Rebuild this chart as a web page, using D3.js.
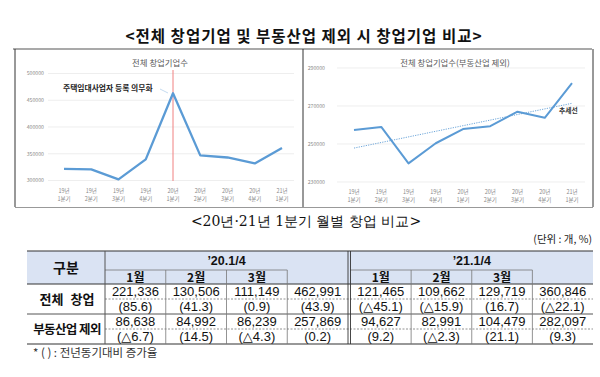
<!DOCTYPE html>
<html>
<head>
<meta charset="utf-8">
<script src="https://cdn.jsdelivr.net/npm/d3@7"></script>
<style>
  body { margin: 0; background: #fff; }
  svg { display: block; font-family: "Noto Sans CJK KR", "Noto Sans", sans-serif; }
</style>
</head>
<body>
<svg id="svg1" width="600" height="377"></svg>
<script>
// quarterly data
var qYear = ["19년","19년","19년","19년","20년","20년","20년","20년","21년"]
var qName = ["1분기","2분기","3분기","4분기","1분기","2분기","3분기","4분기","1분기"]
var totalQ = [321745, 320800, 302000, 339600, 462991, 347000, 343000, 332000, 360846]
var exclQ  = [257354, 259000, 239800, 250400, 257869, 259400, 267000, 263800, 282097]
var totalTicks = [300000, 350000, 400000, 450000, 500000]
var exclTicks  = [230000, 250000, 270000, 290000]

// monthly table
var months = ["1월","2월","3월",""]
var periods = ["’20.1/4","’21.1/4"]
var rowLabels = ["전체 창업","부동산업 제외"]
var total2020    = ["221,336","130,506","111,149","462,991"]
var total2020Pct = ["(85.6)","(41.3)","(0.9)","(43.9)"]
var total2021    = ["121,465","109,662","129,719","360,846"]
var total2021Pct = ["(△45.1)","(△15.9)","(16.7)","(△22.1)"]
var excl2020     = ["86,638","84,992","86,239","257,869"]
var excl2020Pct  = ["(△6.7)","(14.5)","(△4.3)","(0.2)"]
var excl2021     = ["94,627","82,991","104,479","282,097"]
var excl2021Pct  = ["(9.2)","(△2.3)","(21.1)","(9.3)"]

var svg = d3.select("#svg1")
var blue = "#5b9bd5"

// ---- titles
svg.append("text").attr("x",304).attr("y",42).attr("text-anchor","middle")
   .style("font-size","15.5px").style("font-weight","bold").style("letter-spacing","1px").attr("fill","#111")
   .text("<전체 창업기업 및 부동산업 제외 시 창업기업 비교>")
svg.append("line").attr("x1",13).attr("x2",592).attr("y1",49).attr("y2",49)
   .attr("stroke","#8c8c8c").attr("stroke-width",1.5)

// chart frames
svg.append("line").attr("x1",15).attr("x2",15).attr("y1",49).attr("y2",207).attr("stroke","#333")
svg.append("line").attr("x1",303).attr("x2",303).attr("y1",49).attr("y2",207).attr("stroke","#333")
svg.append("line").attr("x1",593).attr("x2",593).attr("y1",49).attr("y2",207).attr("stroke","#333")
svg.append("line").attr("x1",15).attr("x2",593).attr("y1",207.5).attr("y2",207.5).attr("stroke","#999")

function lineChart(opt){
    var g = svg.append("g")
    var x = d3.scalePoint().domain(d3.range(opt.values.length)).range(opt.xr)
    var y = d3.scaleLinear().domain(d3.extent(opt.ticks)).range(opt.yr)

    g.selectAll(".grid").data(opt.ticks).join("line")
       .attr("x1",opt.gx[0]).attr("x2",opt.gx[1])
       .attr("y1",d=>y(d)).attr("y2",d=>y(d))
       .attr("stroke","#e6e6e6").attr("stroke-width",0.7)
    g.selectAll(".yl").data(opt.ticks).join("text")
       .attr("x",opt.lx).attr("y",d=>y(d)+1.8).attr("text-anchor","end")
       .style("font-size","5.2px").attr("fill","#8a8a8a")
       .text(d=>d)
    g.selectAll(".xl1").data(qYear).join("text")
       .attr("x",(d,i)=>x(i)).attr("y",opt.yr[0]+12).attr("text-anchor","middle")
       .style("font-size","5.5px").attr("fill","#8a8a8a").text(d=>d)
    g.selectAll(".xl2").data(qName).join("text")
       .attr("x",(d,i)=>x(i)).attr("y",opt.yr[0]+20).attr("text-anchor","middle")
       .style("font-size","5.5px").attr("fill","#8a8a8a").text(d=>d)
    g.append("text").attr("x",opt.tx).attr("y",66).attr("text-anchor","middle")
       .style("font-size","8.4px").attr("fill","#595959").text(opt.title)
    opt.extra && opt.extra(g, x, y)
    g.append("path").datum(opt.values)
       .attr("d", d3.line().x((d,i)=>x(i)).y(d=>y(d)))
       .attr("fill","none").attr("stroke",blue).attr("stroke-width",opt.sw)
       .attr("stroke-linejoin","round")
    return g
}

lineChart({
    values: totalQ, ticks: totalTicks, title: "전체 창업기업수",
    xr: [64, 282], yr: [180.5, 73.5], gx: [48, 294], lx: 44, tx: 160, sw: 2.3,
    extra: function(g, x, y){
        g.append("line").attr("x1",x(4)).attr("x2",x(4)).attr("y1",70).attr("y2",181)
           .attr("stroke","#f08080").attr("stroke-width",1)
        g.append("text").attr("x",63).attr("y",90.5)
           .style("font-size","7.8px").style("font-weight","bold").attr("fill","#222")
           .text("주택임대사업자 등록 의무화")
        g.append("line").attr("x1",160).attr("y1",89).attr("x2",168).attr("y2",93)
           .attr("stroke","#9dc3e6").attr("stroke-width",0.6)
    }
})

lineChart({
    values: exclQ, ticks: exclTicks, title: "전체 창업기업수(부동산업 제외)",
    xr: [354, 572], yr: [182, 68], gx: [337, 585], lx: 325, tx: 455, sw: 2,
    extra: function(g, x, y){
        // least-squares trend line of the series
        var n = exclQ.length, mx = (n-1)/2, my = d3.mean(exclQ)
        var b = d3.sum(exclQ, (v,i)=>(i-mx)*(v-my)) / d3.sum(exclQ, (v,i)=>(i-mx)*(i-mx))
        var a = my - b*mx
        g.append("line").attr("x1",x(0)).attr("y1",y(a)).attr("x2",x(n-1)).attr("y2",y(a+b*(n-1)))
           .attr("stroke",blue).attr("stroke-width",0.9).attr("stroke-dasharray","1.2,1.2")
        g.append("text").attr("x",559).attr("y",113)
           .style("font-size","6.8px").style("font-weight","bold").attr("fill","#333").text("추세선")
    }
})

// ---- section 2
svg.append("text").attr("x",306).attr("y",226).attr("text-anchor","middle")
   .style("font-family","'DejaVu Serif', 'Liberation Serif', serif").style("font-size","14px").attr("fill","#111")
   .text("<20년·21년 1분기 월별 창업 비교>")
svg.append("text").attr("x",592).attr("y",243).attr("text-anchor","end")
   .style("font-size","10.5px").attr("fill","#222").text("(단위 : 개, %)")

var tTop = 251, tMid = 270, tHead = 284, tBot = 344
var tLeft = 27, tLab = 105, tRight = 593
var colA = d3.scaleBand().domain(d3.range(4)).range([105, 348])
var colB = d3.scaleBand().domain(d3.range(4)).range([350.5, 593])
var rowY = d3.scaleBand().domain(d3.range(4)).range([tHead, tBot])
var cols = [colA, colB]

var t = svg.append("g")
t.append("rect").attr("x",tLeft).attr("y",tTop).attr("width",tRight-tLeft).attr("height",tHead-tTop)
   .attr("fill","#dae3f3")

// header texts
t.append("text").attr("x",(tLeft+tLab)/2).attr("y",(tTop+tHead)/2+5).attr("text-anchor","middle")
   .style("font-size","14px").style("font-weight","bold").attr("fill","#111").text("구분")
periods.forEach(function(p, k){
    var c = cols[k]
    t.append("text").attr("x",(c.range()[0]+c.range()[1])/2).attr("y",265)
       .attr("text-anchor","middle").style("font-family","'Liberation Sans', sans-serif")
       .style("font-size","12.5px").style("font-weight","bold").attr("fill","#111").text(p)
    t.selectAll(".m"+k).data(months).join("text")
       .attr("x",(d,i)=>c(i)+c.bandwidth()/2).attr("y",282).attr("text-anchor","middle")
       .style("font-size","12px").style("font-weight","bold").attr("fill","#111").text(d=>d)
})

// body
var body = [[total2020, total2021],[total2020Pct, total2021Pct],[excl2020, excl2021],[excl2020Pct, excl2021Pct]]
body.forEach(function(r, ri){
    r.forEach(function(vals, k){
        var c = cols[k]
        t.selectAll(".r"+ri+"_"+k).data(vals).join("text")
           .attr("x",(d,i)=>c(i)+c.bandwidth()/2).attr("y",rowY(ri)+12.3).attr("text-anchor","middle")
           .style("font-family","'Liberation Sans', 'DejaVu Sans', sans-serif")
           .style("font-size","13px").attr("fill","#111").text(d=>d)
    })
})
rowLabels.forEach(function(l, i){
    t.append("text").attr("x",(tLeft+tLab)/2+1).attr("y",rowY(i*2)+rowY.bandwidth()+5).attr("text-anchor","middle")
       .style("font-size",i==0?"13px":"12.5px").style("font-weight","bold").style("word-spacing",i==0?"4px":"0px")
       .style("letter-spacing",i==0?"0px":"-0.6px").attr("fill","#111").text(l)
})

// grid lines
function hl(y, x1, x2, color, w, dash){
    t.append("line").attr("x1",x1).attr("x2",x2).attr("y1",y).attr("y2",y)
      .attr("stroke",color).attr("stroke-width",w).attr("stroke-dasharray",dash||null)
}
function vl(x, y1, y2, color, w){
    t.append("line").attr("x1",x).attr("x2",x).attr("y1",y1).attr("y2",y2).attr("stroke",color).attr("stroke-width",w)
}
hl(tTop, tLeft, tRight, "#333", 1.2)
hl(tMid, colA(0), colA(3), "#777", 0.8)
hl(tMid, colB(0), colB(3), "#777", 0.8)
hl(tHead, tLeft, tRight, "#333", 1)
hl(rowY(1), tLab, tRight, "#777", 0.8, "2,1.5")
hl(rowY(2), tLeft, tRight, "#555", 1)
hl(rowY(3), tLab, tRight, "#777", 0.8, "2,1.5")
hl(tBot, tLeft, tRight, "#333", 1.2)
vl(tLab, tTop, tBot, "#555", 1)
cols.forEach(function(c){
    [1,2,3].forEach(i=>vl(c(i), tMid, tBot, "#777", 0.8))
})
vl(348, tTop, tBot, "#333", 0.9)
vl(350.5, tTop, tBot, "#333", 0.9)

svg.append("text").attr("x",33).attr("y",357)
   .style("font-size","11.5px").attr("fill","#333").text("* ( ) : 전년동기대비 증가율")
</script>
</body>
</html>
